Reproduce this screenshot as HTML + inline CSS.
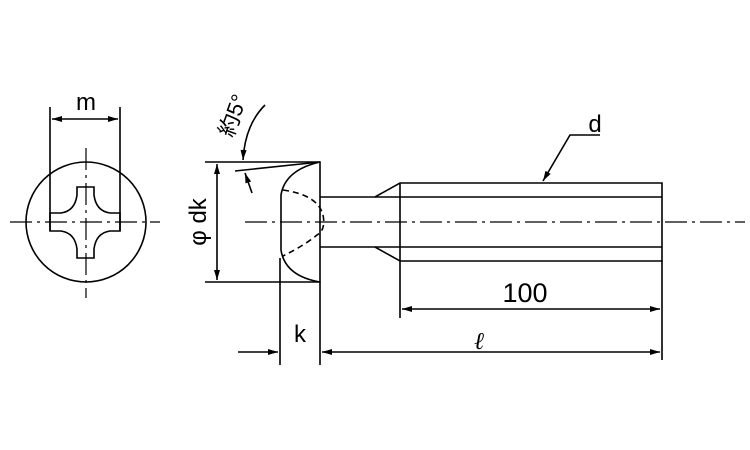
<!DOCTYPE html>
<html><head><style>body{margin:0;background:#fff}svg{display:block}</style></head><body>
<svg width="750" height="450" xmlns="http://www.w3.org/2000/svg" font-family="Liberation Sans, Noto Sans CJK JP, sans-serif">
<defs><marker id="a" viewBox="0 0 10 6" refX="10" refY="3" markerWidth="12" markerHeight="6" orient="auto-start-reverse" markerUnits="userSpaceOnUse"><path d="M0,0L10,3L0,6z" fill="#000"/></marker></defs>
<g stroke="#000" stroke-width="1.6" fill="none">
<circle cx="86" cy="222" r="60"/>
<path d="M77,187H94V195Q96,211 110,213H120V231H110Q96,233 94,249V258H77V249Q75,233 61,231H50V213H61Q75,211 77,195Z"/>
<path d="M50,107V231M120,107V231"/>
<path d="M52,119H118" marker-start="url(#a)" marker-end="url(#a)"/>
<path d="M10,222H160M86,148V298" stroke-width="1.2" stroke-dasharray="22,5,3,5"/>
<path d="M205,162H320V282H205"/>
<path d="M320,162Q285,170 281,195V250Q285,276 320,282"/>
<path d="M280,258V365M320,282V365"/>
<path d="M283,190Q318,195 323,215Q326,230 317,235Q305,245 283,256" stroke-dasharray="6,4"/>
<path d="M217,164V280" marker-start="url(#a)" marker-end="url(#a)"/>
<path d="M235,171L320,162"/>
<path d="M265,105Q245,125 243,160" marker-end="url(#a)"/>
<path d="M252,193L245,173" marker-end="url(#a)"/>
<path d="M320,197H375L400,183H662V261H400L375,247H320"/>
<path d="M375,197H662M375,247H662M400,183V318M662,261V360"/>
<path d="M245,222H745" stroke-width="1.2" stroke-dasharray="22,5,3,5"/>
<path d="M402,309H660" marker-start="url(#a)" marker-end="url(#a)"/>
<path d="M322,352H660" marker-start="url(#a)" marker-end="url(#a)"/>
<path d="M238,352H278" marker-end="url(#a)"/>
<path d="M600,135H570L543,181" marker-end="url(#a)"/>
</g>
<g font-size="24" fill="#000" text-anchor="middle">
<text x="86" y="110">m</text>
<text x="525" y="302" font-size="27">100</text>
<text x="300" y="342">k</text>
<text x="595" y="132">d</text>
<text x="479" y="349" font-style="italic" font-family="Liberation Serif, serif">ℓ</text>
<text transform="translate(206,222) rotate(-90)">φ dk</text>
<text transform="translate(240,118) rotate(-70)" font-size="22">約5°</text>
</g>
</svg>
</body></html>
